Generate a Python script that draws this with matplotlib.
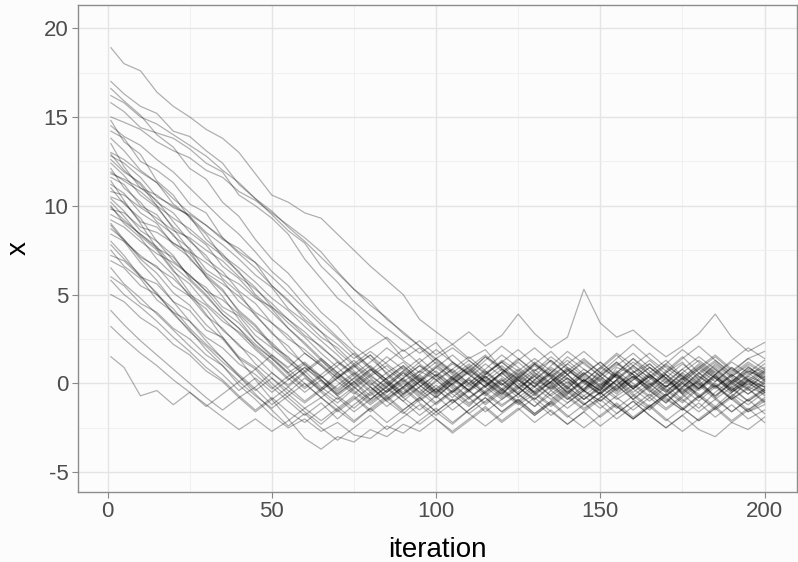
import matplotlib
matplotlib.use('Agg')
import matplotlib.pyplot as plt

plt.rcParams['font.family'] = ['Liberation Sans', 'DejaVu Sans']
plt.rcParams['axes.unicode_minus'] = False

iteration = [1] + list(range(5, 201, 5))

c01 = [18.9, 18.0, 17.6, 16.4, 15.6, 15.0, 14.3, 13.8, 13.0, 11.8, 10.6, 10.2, 9.6, 9.3, 8.4, 7.5, 6.6, 5.8, 5.0, 3.6, 2.9, 2.2, 1.4, 1.9, 0.8, 0.3, 1.1, 0.4, -0.6, 0.2, -0.4, 0.9, 0.5, -0.3, 0.6, 1.2, 0.2, -0.8, 0.1, 0.7, 0.3]
c02 = [17.0, 16.3, 15.6, 15.2, 14.2, 13.9, 13.1, 12.4, 11.2, 10.4, 9.5, 8.6, 7.9, 6.6, 5.7, 4.6, 3.8, 3.1, 2.4, 1.7, 2.3, 1.2, 0.6, 1.5, 0.9, -0.2, 0.4, 1.3, 0.5, -0.4, 0.8, 1.6, 0.7, -0.1, 0.5, -0.6, 0.2, 1.1, 0.4, -0.3, 0.6]
c03 = [16.6, 15.9, 15.1, 14.0, 13.3, 12.1, 11.5, 10.2, 9.4, 8.1, 7.0, 6.2, 5.1, 4.0, 3.2, 2.1, 1.4, 0.6, 1.2, 0.3, -0.5, 0.2, 1.0, 0.1, -0.7, 0.4, -0.2, 0.8, 0.2, -0.9, -0.3, 0.6, 1.4, 0.5, -0.2, 0.3, -0.8, 0.1, 0.9, 0.2, -0.4]
c04 = [15.8, 15.3, 14.4, 14.1, 13.8, 13.2, 12.4, 11.9, 10.6, 10.0, 9.3, 8.4, 7.0, 5.9, 4.8, 4.1, 3.2, 2.5, 1.4, 2.0, 1.1, 0.3, -0.4, 0.5, 1.2, 0.4, -0.6, 0.1, 0.9, 0.3, -0.5, 0.2, -0.9, -0.1, 0.7, 1.5, 0.6, -0.2, 0.4, 1.0, 0.1]
c05 = [14.8, 13.6, 12.9, 11.4, 10.6, 9.3, 8.4, 7.1, 6.3, 5.0, 4.2, 3.1, 2.2, 1.3, 0.4, 1.0, 0.1, -0.8, -0.2, 0.7, 0.2, -0.6, -1.3, -0.4, 0.3, -0.5, 0.6, 0.0, -0.9, -0.3, 0.5, 1.2, 0.3, -0.4, -1.1, -0.2, 0.6, -0.1, -0.8, 0.2, -0.5]
c06 = [14.2, 13.8, 12.5, 12.0, 11.3, 10.1, 9.6, 8.2, 7.4, 6.8, 5.5, 4.7, 3.6, 2.9, 1.8, 1.0, 1.6, 0.5, -0.3, 0.4, -0.5, 0.3, 0.9, 0.1, -0.6, 0.2, 1.1, 1.8, 0.9, 0.2, -0.4, 0.5, -0.2, 0.6, 1.3, 0.4, -0.3, 0.5, -0.4, 0.2, 0.8]
c07 = [13.5, 12.2, 11.0, 10.3, 9.1, 8.0, 7.2, 5.9, 5.1, 3.8, 2.9, 1.8, 1.1, 0.2, -0.6, 0.1, -0.9, -0.2, 0.6, -0.3, -1.1, -0.4, 0.3, -0.5, -1.2, -0.6, 0.2, -0.3, 0.5, -0.4, -1.0, -0.2, 0.4, -0.5, 0.3, -0.6, -1.4, -0.5, 0.2, -0.3, -1.0]
c08 = [12.8, 12.4, 11.6, 10.5, 10.0, 9.4, 8.5, 7.8, 7.0, 6.1, 5.4, 4.2, 3.5, 2.6, 2.0, 1.1, 0.4, 1.0, 0.2, -0.5, 0.4, 1.1, 0.5, -0.2, 0.6, 1.4, 0.6, -0.1, 0.7, 0.1, 0.9, 0.3, -0.5, 0.2, 1.0, 0.4, -0.3, 0.5, 1.2, 0.6, 1.3]
c09 = [12.1, 11.0, 10.2, 9.1, 8.4, 7.0, 6.1, 5.3, 4.0, 3.2, 2.1, 1.5, 0.5, -0.3, 0.6, -0.2, -1.0, -0.4, 0.3, 1.0, 0.4, -0.5, 0.2, -0.6, 0.1, 0.8, 0.0, -0.7, -0.1, 0.6, -0.2, -0.9, -0.3, 0.4, -0.4, 0.2, 0.9, 0.3, -0.5, 0.1, -0.2]
c10 = [11.6, 11.2, 10.0, 9.5, 8.3, 7.6, 6.4, 5.8, 4.6, 3.9, 2.8, 2.1, 1.0, 0.4, -0.5, 0.3, 1.0, 0.2, -0.6, 0.1, 0.7, -0.1, -0.8, -0.2, 0.5, 1.2, 0.4, -0.3, 0.3, -0.5, 0.2, -0.4, 0.6, 1.1, 0.3, -0.4, 0.1, 0.8, 0.0, -0.6, 0.1]
c11 = [11.0, 10.1, 9.3, 8.0, 7.2, 5.9, 5.0, 3.9, 3.1, 2.0, 1.2, 0.3, -0.5, 0.2, -0.7, -1.4, -0.6, 0.1, -0.8, -0.2, 0.5, -0.3, -1.1, -0.5, 0.2, -0.6, -1.3, -0.4, 0.3, -0.4, -1.0, -0.3, 0.4, -0.2, -0.9, -1.5, -0.7, 0.0, -0.6, -1.2, -0.5]
c12 = [10.5, 10.2, 9.1, 8.8, 7.9, 7.3, 6.2, 5.6, 4.9, 4.0, 3.4, 2.5, 1.9, 1.1, 0.3, 0.9, 1.6, 0.8, 0.1, 0.7, 1.4, 0.6, -0.1, 0.5, 1.3, 0.7, 0.0, 0.6, 1.5, 0.8, 0.2, 1.0, 1.7, 0.9, 0.3, 1.1, 0.4, -0.2, 0.5, 1.2, 0.6]
c13 = [10.0, 9.0, 8.2, 7.0, 6.1, 4.9, 4.2, 3.0, 2.2, 1.1, 0.3, -0.6, -1.4, -0.8, -1.6, -0.9, -0.2, -1.0, -1.7, -0.9, -0.3, -1.1, -0.4, 0.2, -0.5, -1.2, -0.6, 0.1, -0.7, -1.4, -0.8, -0.1, -0.9, -1.5, -0.7, 0.0, -0.6, -1.3, -0.5, 0.1, -0.7]
c14 = [9.5, 9.1, 8.4, 7.6, 7.1, 6.0, 5.4, 4.3, 3.8, 2.7, 2.0, 1.2, 0.5, -0.4, 0.3, 1.0, 0.3, -0.5, 0.1, -0.7, 0.2, 0.8, 1.5, 0.7, 0.0, -0.6, 0.2, 0.9, 0.3, -0.4, 0.4, 1.1, 0.5, -0.3, -1.0, -0.2, 0.6, 1.3, 0.5, -0.1, 0.7]
c15 = [9.0, 8.1, 7.0, 6.2, 5.1, 4.4, 3.3, 2.5, 1.4, 0.8, -0.2, -1.0, -1.8, -1.1, -2.0, -1.2, -0.5, -1.3, -0.6, 0.1, -0.7, -1.5, -0.8, -1.6, -0.9, -0.2, -1.0, -1.8, -1.1, -0.4, -1.2, -2.0, -1.3, -0.6, -1.4, -0.7, 0.0, -0.8, -1.6, -0.9, -1.7]
c16 = [8.4, 8.0, 7.2, 6.5, 5.9, 5.0, 4.4, 3.5, 2.9, 2.1, 1.4, 0.6, 1.2, 0.4, -0.3, 0.5, 1.2, 2.0, 1.3, 0.6, 1.4, 0.7, 0.0, 0.8, 1.6, 0.9, 0.2, 1.0, 1.8, 1.1, 0.4, 1.2, 0.5, -0.2, 0.6, 1.4, 2.1, 1.3, 0.6, 1.4, 0.8]
c17 = [7.8, 7.0, 6.1, 5.0, 4.2, 3.1, 2.2, 1.4, 0.5, -0.3, -1.2, -0.5, 0.3, -0.4, -1.1, -0.3, 0.4, -0.2, 0.6, -0.1, -0.8, 0.0, 0.7, 0.1, -0.6, 0.3, 1.0, 0.3, -0.5, 0.2, -0.4, 0.5, -0.3, -1.0, -0.2, 0.5, -0.3, 0.4, -0.4, 0.3, -0.2]
c18 = [7.2, 6.9, 6.0, 5.6, 4.6, 4.1, 3.0, 2.6, 1.5, 0.9, 0.0, -0.8, -1.6, -2.3, -1.5, -2.2, -1.4, -0.7, -1.5, -0.8, -1.6, -2.3, -1.5, -0.8, -1.6, -0.9, -1.7, -1.0, -0.3, -1.1, -1.9, -1.2, -2.0, -1.3, -0.6, -1.4, -2.1, -1.4, -0.7, -1.5, -0.9]
c19 = [6.5, 5.6, 4.8, 3.9, 3.0, 2.1, 1.3, 0.5, -0.4, 0.3, -0.5, 0.2, 0.9, 0.2, -0.6, 0.1, 0.8, 0.0, -0.7, 0.1, 0.9, 0.2, -0.5, 0.3, 1.0, 0.2, -0.5, 0.1, 0.8, 0.0, -0.6, 0.2, 0.9, 0.1, -0.5, 0.3, 1.0, 0.3, -0.4, 0.4, 1.1]
c20 = [5.8, 5.0, 4.3, 3.5, 2.6, 1.8, 0.9, 0.2, -0.7, -1.5, -0.8, -1.6, -2.2, -1.5, -0.8, -1.6, -0.9, -0.2, -1.0, -1.8, -1.1, -0.4, -1.2, -0.5, 0.2, -0.6, -1.3, -0.6, 0.1, -0.7, -1.4, -0.7, -0.1, -0.8, -1.5, -0.8, -0.1, -0.9, -1.6, -0.9, -0.3]
c21 = [5.0, 4.6, 3.7, 3.1, 2.2, 1.6, 0.7, 0.1, -0.8, -0.2, 0.6, -0.1, 0.7, 1.4, 0.6, -0.1, 0.7, 1.5, 0.8, 0.1, 0.9, 1.6, 0.8, 0.1, 0.8, 0.2, -0.5, 0.3, 1.1, 0.4, -0.3, 0.5, 1.2, 0.5, -0.2, 0.6, 1.3, 0.6, -0.1, 0.7, 0.2]
c22 = [4.1, 3.3, 2.4, 1.6, 0.8, 0.0, -0.8, -1.5, -0.8, -1.6, -0.9, -0.2, -1.0, -0.3, 0.4, -0.4, -1.1, -0.4, 0.3, -0.5, -1.2, -0.5, 0.2, -0.6, -1.3, -0.6, 0.1, -0.7, -1.4, -0.7, 0.0, -0.8, -1.5, -0.8, -0.1, -0.9, -1.6, -0.9, -0.2, -1.0, -0.4]
c23 = [1.5, 0.9, -0.7, -0.4, -1.2, -0.5, -1.3, -0.6, 0.1, -0.7, -1.4, -0.7, 0.0, -0.8, -0.1, 0.6, -0.2, -0.9, -0.2, 0.5, -0.3, -1.0, -0.3, 0.4, -0.4, -1.1, -0.4, 0.3, -0.5, -1.2, -0.5, 0.2, -0.6, -1.3, -0.6, 0.1, -0.7, -1.4, -0.7, 0.0, -0.5]
c24 = [11.4, 10.3, 9.0, 7.6, 6.4, 5.1, 3.9, 2.6, 1.4, 0.2, -0.9, -2.0, -3.1, -3.7, -3.0, -3.3, -2.6, -3.0, -2.3, -2.7, -2.0, -2.8, -2.1, -1.4, -2.2, -1.5, -0.8, -1.6, -2.3, -1.6, -2.4, -1.7, -1.0, -1.8, -2.5, -1.8, -2.6, -3.0, -2.2, -2.6, -1.9]
c25 = [13.0, 12.6, 11.9, 11.3, 10.4, 9.6, 8.9, 8.2, 7.3, 6.5, 5.5, 4.6, 3.8, 2.9, 2.2, 1.4, 2.0, 2.6, 1.8, 2.4, 1.6, 2.2, 2.9, 2.1, 2.7, 3.9, 2.8, 2.0, 2.6, 5.3, 3.4, 2.6, 3.0, 2.2, 1.5, 2.1, 2.8, 3.9, 2.6, 1.8, 2.3]
c26 = [15.0, 14.7, 14.3, 13.6, 13.1, 12.7, 12.0, 11.6, 10.8, 10.3, 9.6, 8.9, 8.2, 7.4, 6.3, 5.3, 4.6, 3.6, 2.9, 2.1, 1.4, 2.0, 1.3, 0.6, 1.2, 0.5, -0.2, 0.6, 1.3, 0.5, -0.2, 0.6, 1.4, 0.7, 0.0, 0.8, 1.5, 0.8, 0.1, 0.9, 0.4]
c27 = [9.8, 9.6, 8.8, 8.5, 7.9, 7.4, 6.8, 6.1, 5.6, 4.8, 4.3, 3.6, 2.7, 2.1, 1.2, 0.6, -0.1, 0.6, -0.2, 0.5, 1.2, 0.5, -0.2, 0.6, -0.1, 0.7, 1.4, 0.7, 0.0, 0.8, 0.1, -0.6, 0.2, 0.9, 0.2, -0.5, 0.3, 1.0, 0.3, -0.4, 0.2]
c28 = [3.2, 2.5, 1.7, 1.0, 0.2, -0.5, -1.2, -1.9, -2.6, -2.0, -2.7, -2.1, -1.4, -2.1, -1.4, -0.7, -1.5, -0.8, -1.6, -2.3, -1.6, -0.9, -1.7, -1.0, -0.3, -1.1, -1.8, -1.1, -1.9, -1.2, -0.5, -1.3, -2.0, -1.3, -0.6, -1.4, -2.1, -1.4, -2.2, -1.5, -0.8]
c29 = [12.4, 11.7, 10.6, 9.9, 8.8, 8.1, 7.0, 6.3, 5.2, 4.5, 3.4, 2.7, 1.7, 1.0, 0.1, -0.6, 0.2, -0.5, 0.3, 1.0, 0.2, -0.5, 0.3, 1.1, 0.4, -0.3, 0.5, -0.2, -0.9, -0.1, 0.6, -0.1, 0.7, 0.0, -0.7, 0.1, 0.8, 0.1, 0.9, 0.2, -0.4]
c30 = [8.0, 7.2, 6.0, 5.1, 3.9, 3.0, 1.9, 1.0, -0.1, -0.9, -1.8, -2.5, -2.0, -2.7, -2.2, -2.9, -3.1, -2.4, -2.8, -2.1, -1.4, -2.2, -1.5, -0.8, -1.6, -0.9, -1.7, -1.0, -1.8, -2.5, -1.8, -1.1, -1.9, -1.2, -2.0, -2.7, -2.0, -1.3, -2.1, -1.4, -2.2]
c31 = [6.0, 5.5, 4.5, 4.0, 3.1, 2.5, 1.6, 1.0, 0.1, 0.8, 1.6, 0.9, 1.7, 1.0, 0.3, 1.1, 1.8, 1.1, 0.4, 1.2, 1.9, 1.2, 0.5, 1.3, 2.1, 1.4, 0.7, 1.5, 0.8, 0.1, 0.9, 1.7, 1.0, 0.3, 1.1, 1.9, 1.2, 0.5, 1.3, 2.0, 1.4]
c32 = [10.8, 10.6, 9.9, 9.3, 8.6, 8.2, 7.5, 6.9, 6.0, 5.3, 4.5, 3.6, 2.9, 2.0, 1.3, 0.5, -0.2, -1.0, -0.3, -1.1, -1.8, -1.1, -0.4, -1.2, -0.5, 0.2, -0.6, -1.3, -0.6, 0.1, -0.7, -1.4, -0.7, 0.0, -0.8, -1.5, -0.8, -0.1, -0.9, -1.6, -1.0]
c33 = [12.9, 12.0, 11.2, 10.0, 8.7, 7.5, 6.0, 4.9, 3.6, 2.4, 1.5, 0.6, -0.2, 0.5, 1.2, 0.4, -0.4, 0.3, 1.0, 0.2, -0.6, 0.1, 0.8, 0.0, -0.8, -0.1, 0.7, 1.3, 0.5, -0.3, 0.4, -0.4, 0.3, 1.1, 0.3, -0.5, 0.2, 0.9, 0.1, -0.6, 0.0]
c34 = [11.8, 11.5, 11.0, 10.6, 9.9, 9.5, 8.9, 8.1, 7.6, 6.8, 6.0, 5.1, 4.2, 3.3, 2.5, 1.6, 0.8, 0.0, 0.7, -0.1, -0.8, 0.0, 0.6, -0.2, -0.9, -0.3, 0.4, -0.4, -1.1, -0.4, 0.3, -0.5, 0.2, 0.9, 0.1, -0.6, 0.1, -0.7, 0.0, 0.6, -0.1]
c35 = [10.2, 9.4, 8.3, 7.5, 6.3, 5.6, 4.5, 3.7, 2.8, 1.9, 1.1, 0.2, 0.9, 0.1, -0.7, 0.0, 0.8, 0.1, -0.6, 0.2, 1.0, 0.3, -0.4, 0.4, -0.3, 0.5, 1.2, 0.5, -0.2, 0.6, -0.1, 0.7, 0.0, -0.7, 0.1, 0.8, 0.0, -0.7, 0.1, 0.9, 0.3]
c36 = [9.2, 8.8, 8.0, 7.3, 6.8, 6.1, 5.2, 4.7, 3.9, 3.0, 2.3, 1.4, 0.7, -0.2, -0.9, -0.2, 0.5, -0.3, -1.0, -0.2, 0.5, -0.2, -0.9, -0.1, 0.6, -0.2, -0.9, -0.2, 0.5, 1.2, 0.4, -0.3, 0.4, -0.4, -1.1, -0.3, 0.4, -0.3, 0.5, -0.2, 0.4]
c37 = [8.7, 8.1, 7.1, 6.6, 5.5, 4.9, 3.8, 3.1, 2.1, 1.5, 0.6, -0.2, 0.6, 1.3, 0.5, -0.2, -0.9, -0.1, 0.7, 1.4, 0.6, -0.1, 0.7, 1.5, 0.7, 0.0, -0.7, 0.1, 0.8, 0.1, -0.6, 0.2, 1.0, 0.3, -0.5, 0.3, 1.1, 0.4, -0.3, 0.5, 0.9]
c38 = [13.8, 13.1, 12.0, 11.3, 10.1, 9.4, 8.1, 7.3, 6.2, 5.4, 4.3, 3.4, 2.6, 1.7, 0.9, 0.1, -0.7, 0.0, -0.8, -1.5, -0.7, 0.0, -0.8, -0.1, 0.6, -0.2, -0.9, -0.1, -0.8, -1.5, -0.8, -0.1, -0.9, -0.2, 0.5, -0.3, -1.0, -0.2, -0.9, -0.3, -1.1]
c39 = [7.5, 6.6, 5.9, 4.7, 4.0, 2.9, 2.1, 1.2, 0.4, -0.4, 0.3, -0.4, -1.1, -0.4, 0.3, -0.5, -1.2, -0.5, 0.2, -0.6, 0.1, 0.8, 0.0, -0.7, 0.0, -0.8, -0.1, 0.6, -0.2, -0.9, -0.2, 0.5, -0.3, 0.4, -0.4, -1.1, -0.3, 0.4, -0.3, -1.0, -0.3]
c40 = [6.9, 6.5, 5.5, 5.0, 4.0, 3.5, 2.6, 2.0, 1.1, 0.5, -0.3, 0.4, 1.1, 0.3, 1.0, 1.7, 0.9, 0.2, 0.9, 0.1, -0.6, 0.2, 0.9, 1.6, 0.8, 0.1, 0.8, 0.0, 0.7, 1.4, 0.6, -0.1, 0.6, 1.3, 0.5, -0.2, 0.5, 1.2, 0.4, 1.1, 0.5]
c41 = [11.2, 10.7, 9.6, 9.0, 7.8, 7.1, 6.0, 5.2, 4.1, 3.3, 2.2, 1.3, 0.4, -0.5, -1.3, -2.1, -1.4, -2.2, -1.5, -0.8, -1.6, -0.9, -1.7, -2.4, -1.7, -1.0, -1.8, -1.1, -0.4, -1.2, -0.5, -1.3, -2.0, -1.3, -2.1, -1.4, -0.7, -1.5, -0.8, -1.6, -1.2]
c42 = [14.5, 13.9, 13.4, 12.6, 11.9, 11.0, 10.1, 9.2, 8.4, 7.4, 6.3, 5.5, 4.4, 3.5, 2.6, 1.8, 0.9, 0.2, -0.5, 0.3, -0.4, 0.4, 1.1, 0.3, -0.4, 0.4, 1.1, 0.4, -0.3, 0.5, 1.2, 0.4, -0.3, 0.5, -0.2, 0.6, -0.1, 0.7, 0.0, 0.8, 0.2]
c43 = [10.4, 9.7, 8.6, 8.0, 6.9, 6.1, 5.2, 4.1, 3.4, 2.4, 1.6, 0.8, 0.0, -0.8, -1.5, -0.8, -1.6, -0.9, -0.2, -1.0, -0.3, 0.4, -0.4, -1.1, -0.4, 0.3, -0.5, -1.2, -0.5, 0.2, -0.6, 0.1, -0.7, -1.4, -0.7, 0.0, -0.8, -0.1, -0.9, -0.2, -0.6]
c44 = [12.6, 11.9, 11.3, 10.2, 9.6, 8.5, 7.8, 6.6, 5.9, 4.9, 4.0, 3.1, 2.3, 1.4, 0.6, 1.3, 0.5, 1.2, 1.9, 1.1, 0.4, 1.2, 0.5, -0.2, 0.6, 1.3, 2.0, 1.2, 0.5, 1.3, 0.6, 1.4, 2.2, 1.4, 0.7, 0.0, 0.8, 1.5, 0.7, 1.4, 1.8]
c45 = [8.9, 8.0, 6.8, 5.8, 4.6, 3.5, 2.4, 1.4, 0.4, -0.6, -1.5, -2.4, -1.7, -2.5, -3.2, -2.5, -1.8, -2.6, -1.9, -1.2, -2.0, -2.7, -2.0, -1.3, -2.1, -1.4, -2.2, -1.5, -2.3, -1.6, -0.9, -1.7, -1.0, -1.8, -2.5, -1.8, -1.1, -1.9, -1.2, -2.0, -1.5]
c46 = [9.9, 9.2, 8.4, 7.7, 6.6, 5.8, 4.9, 3.9, 3.1, 2.2, 1.4, 0.5, -0.3, 0.4, -0.4, 0.3, -0.5, 0.3, 1.0, 0.2, -0.5, 0.3, -0.4, 0.4, -0.3, -1.0, -0.2, 0.5, -0.3, 0.5, 1.2, 0.4, -0.3, 0.4, 1.1, 0.3, -0.4, 0.3, -0.5, 0.2, -0.2]
c47 = [11.9, 11.4, 10.8, 10.0, 9.3, 8.7, 7.9, 7.2, 6.5, 5.7, 4.8, 4.1, 3.2, 2.4, 1.6, 0.7, 0.0, -0.7, 0.0, -0.8, -0.1, -0.8, 0.0, 0.7, -0.1, 0.6, -0.2, -0.9, -0.2, -0.9, -0.1, 0.6, -0.2, 0.5, -0.3, -1.0, -0.2, 0.5, -0.2, 0.4, 0.0]
c48 = [16.2, 15.8, 15.0, 14.6, 14.0, 13.4, 12.8, 12.0, 11.3, 10.4, 9.7, 8.8, 8.0, 7.1, 6.2, 5.3, 4.4, 3.7, 2.8, 2.1, 1.3, 0.6, 1.3, 0.5, 1.2, 1.9, 1.1, 0.4, 1.1, 1.8, 1.0, 0.3, 1.0, 1.7, 0.9, 0.2, 0.9, 1.6, 0.8, 0.1, 0.7]

chains = [c01, c02, c03, c04, c05, c06, c07, c08, c09, c10, c11, c12, c13, c14, c15, c16,
          c17, c18, c19, c20, c21, c22, c23, c24, c25, c26, c27, c28, c29, c30, c31, c32,
          c33, c34, c35, c36, c37, c38, c39, c40, c41, c42, c43, c44, c45, c46, c47, c48]

x_ticks = [0, 50, 100, 150, 200]
y_ticks = [-5, 0, 5, 10, 15, 20]

fig = plt.figure(figsize=(7.98, 5.62), dpi=100)
fig.patch.set_facecolor('#fcfcfd')
ax = fig.add_axes([0.098, 0.125, 0.901, 0.866])
ax.set_facecolor('#fcfcfd')

for ch in chains:
    ax.plot(iteration, ch, color='black', alpha=0.3, linewidth=0.9)

ax.set_xlim(-8.95, 209.95)
ax.set_ylim(-6.1, 21.3)
ax.set_xticks(x_ticks)
ax.set_yticks(y_ticks)
ax.set_xticks([25, 75, 125, 175], minor=True)
ax.set_yticks([-2.5, 2.5, 7.5, 12.5, 17.5], minor=True)
ax.grid(which='major', color='#e4e4e6', linewidth=1.0)
ax.grid(which='minor', color='#eeeef0', linewidth=0.6)
ax.set_axisbelow(True)
ax.tick_params(which='major', length=4, color='#888888', labelsize=16, labelcolor='#4d4d4d', pad=3)
ax.tick_params(which='minor', length=0)
for s in ax.spines.values():
    s.set_color('#8c8c8c')
    s.set_linewidth(1.0)

ax.set_xlabel('iteration', fontsize=20, va='center')
ax.set_ylabel('x', fontsize=20, va='center')
ax.xaxis.set_label_coords(0.5, -0.119)
ax.yaxis.set_label_coords(-0.083, 0.5)

fig.savefig('out.png', dpi=100, facecolor=fig.get_facecolor())
